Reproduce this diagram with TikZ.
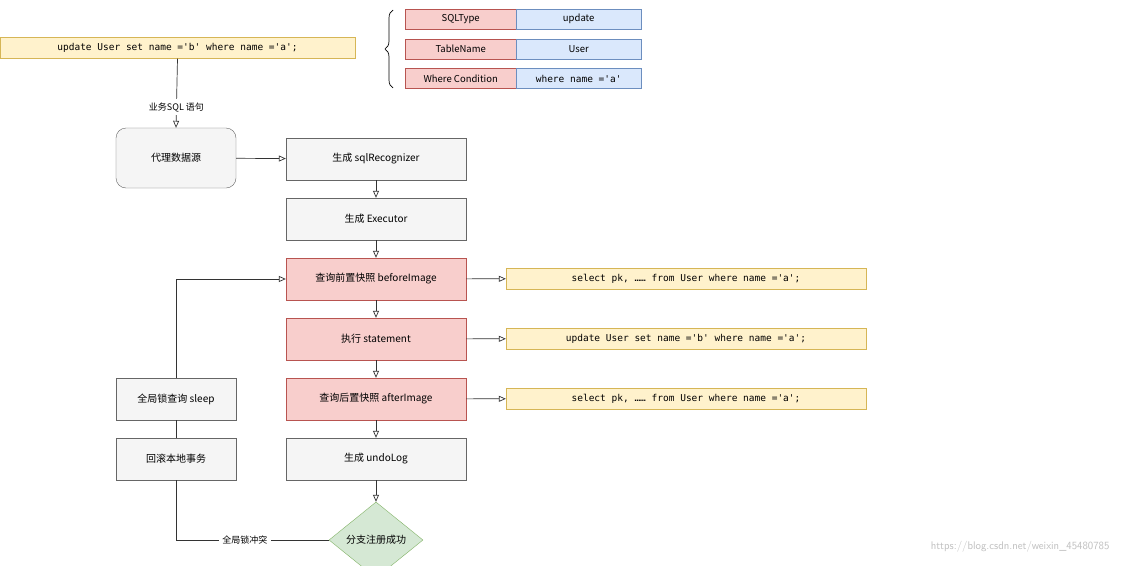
\documentclass[tikz,border=0pt]{standalone}
\usepackage{fontspec}
\setmainfont{Noto Sans CJK SC}
\newfontfamily\codefont{DejaVu Sans Mono}
\usetikzlibrary{arrows.meta,shapes.geometric,decorations.pathreplacing}
\definecolor{codefill}{HTML}{FFF2CC}
\definecolor{codeline}{HTML}{D6B656}
\definecolor{redfill}{HTML}{F8CECC}
\definecolor{redline}{HTML}{B85450}
\definecolor{bluefill}{HTML}{DAE8FC}
\definecolor{blueline}{HTML}{6C8EBF}
\definecolor{greyfill}{HTML}{F5F5F5}
\definecolor{greyline}{HTML}{666666}
\definecolor{greenfill}{HTML}{D5E8D4}
\definecolor{greenline}{HTML}{82B366}
\tikzset{
  box/.style={draw=greyline,fill=greyfill,minimum width=180pt,minimum height=42pt,font=\fontsize{10}{12}\selectfont},
  redbox/.style={box,draw=redline,fill=redfill},
  code/.style={draw=codeline,fill=codefill,minimum height=21pt,font=\codefont\fontsize{9.5}{11}\selectfont},
  cell/.style={draw,minimum height=20pt,font=\fontsize{9.5}{11}\selectfont},
  arr/.style={-{Triangle[open,length=7pt,width=6pt]},draw=black!80,line width=0.7pt},
  ln/.style={draw=black!80,line width=0.7pt}
}
\begin{document}
\begin{tikzpicture}[x=1pt,y=-1pt]
\useasboundingbox[fill=white] (0,0) rectangle (1123,565);
% top statement and parse result
\node[code,minimum width=355pt] (sql) at (177.5,48) {update User set name ='b' where name ='a';};
\draw[decorate,decoration={brace,amplitude=8pt},line width=0.7pt] (393,88) -- (393,10);
\node[cell,draw=redline,fill=redfill,minimum width=111pt,anchor=west] (k1) at (405,19) {SQLType};
\node[cell,draw=blueline,fill=bluefill,minimum width=125pt,anchor=west] (v1) at (516,19) {update};
\node[cell,draw=redline,fill=redfill,minimum width=111pt,anchor=west] (k2) at (405,49) {TableName};
\node[cell,draw=blueline,fill=bluefill,minimum width=125pt,anchor=west] (v2) at (516,49) {User};
\node[cell,draw=redline,fill=redfill,minimum width=111pt,anchor=west] (k3) at (405,78.5) {Where Condition};
\node[cell,draw=blueline,fill=bluefill,minimum width=125pt,anchor=west,font=\codefont\fontsize{9.5}{11}\selectfont] (v3) at (516,78.5) {where name ='a'};
% main flow
\node[box,rounded corners=10pt,minimum width=120pt,minimum height=60pt] (ds) at (176,158) {代理数据源};
\node[box] (rec) at (376,159) {生成 sqlRecognizer};
\node[box] (exe) at (376,219) {生成 Executor};
\node[redbox] (bef) at (376,279) {查询前置快照 beforeImage};
\node[redbox] (stm) at (376,339) {执行 statement};
\node[redbox] (aft) at (376,399) {查询后置快照 afterImage};
\node[box] (undo) at (376,459) {生成 undoLog};
\node[diamond,draw=greenline,fill=greenfill,minimum width=94pt,minimum height=76pt,inner sep=0pt,font=\fontsize{10}{12}\selectfont] (ok) at (376,540) {分支注册成功};
% side statements
\node[code,minimum width=360pt] (s1) at (686,278.5) {select pk, …… from User where name ='a';};
\node[code,minimum width=360pt] (s2) at (686,338.5) {update User set name ='b' where name ='a';};
\node[code,minimum width=360pt] (s3) at (686,398.5) {select pk, …… from User where name ='a';};
% lock conflict branch
\node[box,minimum width=120pt] (slp) at (176,399) {全局锁查询 sleep};
\node[box,minimum width=120pt] (rb) at (176,459) {回滚本地事务};
% connectors
\draw[arr] (sql.south) -- node[fill=white,font=\fontsize{9}{11}\selectfont,pos=0.7]{业务SQL 语句} (ds.north);
\draw[arr] (ds) -- (rec);
\draw[arr] (rec) -- (exe);
\draw[arr] (exe) -- (bef);
\draw[arr] (bef) -- (stm);
\draw[arr] (stm) -- (aft);
\draw[arr] (aft) -- (undo);
\draw[arr] (undo) -- (ok);
\draw[arr] (bef) -- (s1);
\draw[arr] (stm) -- (s2);
\draw[arr] (aft) -- (s3);
\draw[ln] (ok.west) -- node[fill=white,font=\fontsize{9}{11}\selectfont,pos=0.55]{全局锁冲突} (rb.south |- ok.west) -- (rb.south);
\draw[ln] (rb) -- (slp);
\draw[arr] (slp.north) |- (bef.west);
% watermark
\node[text=black!25,font=\fontsize{11}{13}\selectfont\sffamily,anchor=east] (wm) at (1113,547) {https://blog.csdn.net/weixin\_45480785};
\end{tikzpicture}
\end{document}
